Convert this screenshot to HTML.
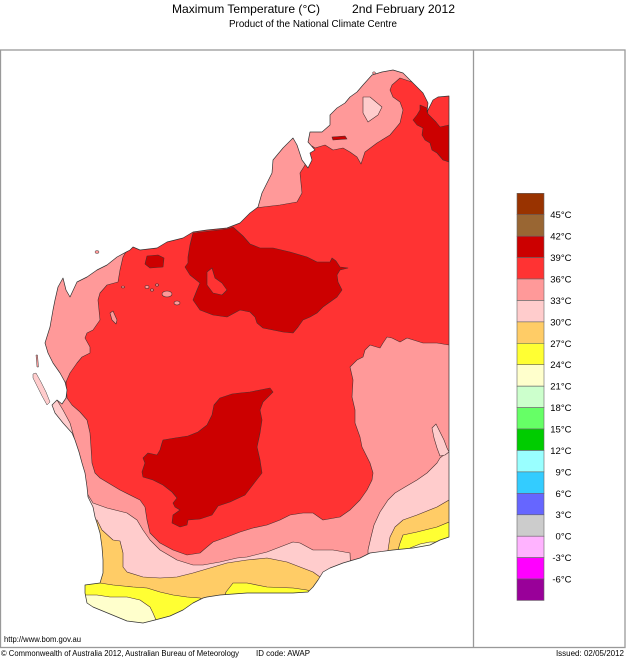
<!DOCTYPE html>
<html>
<head>
<meta charset="utf-8">
<style>
  html,body{margin:0;padding:0;background:#fff;width:626px;height:659px;overflow:hidden;}
  svg{display:block;position:absolute;left:0;top:0;}
  text{font-family:"Liberation Sans", Arial, sans-serif; fill:#000;}
</style>
</head>
<body>
<svg width="626" height="659" viewBox="0 0 626 659" xmlns="http://www.w3.org/2000/svg">
  <rect x="0" y="0" width="626" height="659" fill="#fff"/>

  <text x="172" y="13" font-size="12" textLength="148" lengthAdjust="spacingAndGlyphs">Maximum Temperature (°C)</text>
  <text x="352" y="13" font-size="12" textLength="103" lengthAdjust="spacingAndGlyphs">2nd February 2012</text>
  <text x="229" y="27" font-size="10" textLength="168" lengthAdjust="spacingAndGlyphs">Product of the National Climate Centre</text>

  <defs>
    <clipPath id="land">
      <polygon points="449,96 449,537 440,540 430,545 413,548 393,550 370,553 360,558 343,563 330,568 323,572 318,580 313,587 308,592 293,593 273,593 247,593 220,595 207,597 203,598 193,603 183,610 170,616 155,620 143,623 127,621 110,614 93,607 87,603 85,593 85,585 100,583 103,573 103,560 102,547 100,533 97,523 95,517 93,507 88,497 87,487 85,473 82,463 79,452 75,440 72,433 63,423 55,413 52,405 57,400 62,404 66,398 67,390 65,382 60,373 53,363 48,353 45,343 50,327 53,310 55,300 58,287 63,278 66,290 70,297 77,282 87,277 97,270 107,265 117,257 130,250 133,247 140,250 157,248 167,242 183,238 193,232 207,230 227,228 240,223 250,213 258,207 262,193 272,173 273,160 283,148 293,138 297,145 302,160 308,168 312,160 310,153 315,150 308,142 310,132 322,132 330,125 330,115 337,108 345,103 350,97 357,92 363,85 372,75 382,72 393,70 403,73 412,82 423,93 428,103 427,112 433,100 438,97 449,96"/>
    </clipPath>
  </defs>

  <g clip-path="url(#land)" stroke="#4a3030" stroke-width="0.6" stroke-linejoin="round">
    <rect x="0" y="60" width="450" height="580" fill="#FF3333" stroke="none"/>

    <polygon fill="#FF9999" points="240,200 255,208 263,207 280,205 297,202 302,193 300,173 305,165 306,150 312,146 315,148 325,145 333,150 343,148 350,152 357,157 361,164 365,152 377,143 390,135 400,123 403,110 400,102 393,97 390,90 392,85 400,78 412,82 415,60 240,60"/>
    <polygon fill="#FFCCCC" points="363,97 370,97 382,107 378,115 368,122 363,113"/>
    <polygon fill="#CC0000" points="332,137 345,136 347,139 333,140"/>

    <polygon fill="#FF9999" points="125,235 130,248 127,250 123,257 120,270 118,282 107,285 100,293 98,300 100,320 93,330 87,333 85,338 90,347 90,353 82,357 77,363 70,373 66,382 30,390 20,240"/>

    <polygon fill="#FF9999" points="30,385 66,382 67,398 72,405 80,412 87,420 90,433 91,447 92,463 95,473 100,478 120,490 140,500 145,507 147,520 150,533 160,543 173,550 187,555 200,553 207,547 213,542 227,537 240,532 253,528 267,525 280,520 290,515 303,513 313,513 323,520 340,517 350,510 360,500 367,490 372,480 373,473 370,463 365,453 362,447 360,437 355,423 355,410 352,397 353,380 350,367 357,360 363,357 365,350 370,345 380,348 383,343 387,337 392,338 400,342 407,338 423,343 437,343 449,345 460,345 460,635 10,635 10,385"/>

    <polygon fill="#FFCCCC" points="30,395 57,400 63,410 70,423 74,437 77,450 80,462 83,475 85,490 93,503 107,508 127,513 137,520 143,530 150,540 160,550 177,560 193,565 203,565 220,562 237,558 247,557 267,552 280,547 293,542 300,543 313,550 333,550 350,553 352,600 10,600 10,395"/>
    <polygon fill="#FFCCCC" points="368,600 368,550 371,537 374,525 380,512 388,500 395,493 405,487 417,480 427,473 433,467 437,463 440,458 445,454 449,452 460,452 460,600"/>
    <polygon fill="#FFCCCC" points="432,428 436,424 440,432 444,440 447,448 449,452 445,455 440,456 437,448 434,438"/>

    <polygon fill="#FFCC66" points="60,515 97,520 102,530 113,540 120,541 123,553 123,567 127,572 143,577 160,578 177,577 193,573 210,568 227,563 247,560 267,558 287,562 300,567 313,572 320,577 325,582 325,635 10,635 10,515"/>
    <polygon fill="#FFCC66" points="388,570 388,550 390,537 395,527 403,520 417,515 437,507 449,500 460,500 460,570"/>

    <polygon fill="#FFFF33" points="60,578 87,583 100,583 113,585 133,587 147,588 160,592 173,595 187,597 200,598 207,603 207,635 10,635 10,578"/>
    <polygon fill="#FFFF33" points="222,605 226,592 233,583 247,583 267,587 293,588 307,590 312,592 312,605"/>
    <polygon fill="#FFFF33" points="398,570 398,550 400,543 403,535 417,532 437,527 449,522 460,522 460,570"/>

    <polygon fill="#FFFFCC" points="60,594 85,595 97,595 110,597 127,597 140,600 150,607 153,613 156,620 158,635 10,635 10,594"/>
    <polygon fill="#FFFFCC" points="405,556 410,548 420,544 430,542 440,542 445,556"/>

    <polygon fill="#CC0000" points="193,233 210,231 227,229 233,227 243,236 250,244 260,248 273,248 290,252 307,257 317,262 330,262 332,258 336,261 340,267 348,268 340,270 337,275 338,282 342,290 337,297 330,302 323,307 317,313 310,317 303,320 298,327 293,333 283,332 273,330 263,328 257,323 255,317 250,312 240,310 227,317 213,315 200,310 193,300 197,290 200,283 190,275 185,267 188,263 188,257 190,245"/>
    <polygon fill="#FF3333" points="207,272 212,268 215,278 222,283 227,290 222,295 213,293 207,285"/>
    <polygon fill="#CC0000" points="147,256 158,255 164,258 163,267 150,268 145,264"/>

    <polygon fill="#CC0000" points="420,105 427,108 428,114 432,118 436,122 440,127 449,125 449,162 443,160 437,153 432,150 430,143 425,140 422,135 423,128 417,125 413,120 417,115 420,110"/>

    <polygon fill="#CC0000" points="163,440 175,438 188,436 198,432 207,425 212,415 214,405 220,398 232,394 240,393 250,392 260,390 270,388 273,392 268,397 263,402 260,410 262,420 260,433 257,447 260,460 262,473 255,482 245,495 230,502 218,506 212,515 200,519 188,520 187,525 180,527 172,523 173,515 180,510 175,507 173,503 177,498 172,492 163,485 153,480 143,477 142,472 145,463 143,458 148,453 157,455 160,450 162,443"/>

    <ellipse cx="147" cy="287" rx="2" ry="1.5" fill="#FF9999"/>
    <ellipse cx="152" cy="290" rx="1.5" ry="1.2" fill="#FF9999"/>
    <ellipse cx="157" cy="285" rx="1.5" ry="1.2" fill="#FF9999"/>
    <ellipse cx="167" cy="294" rx="5" ry="3" fill="#FF9999"/>
    <ellipse cx="177" cy="303" rx="3" ry="2" fill="#FF9999"/>
    <polygon fill="#FF9999" points="110,313 113,311 117,320 116,324 112,320"/>
    <ellipse cx="123" cy="287" rx="1.5" ry="1" fill="#FF9999"/>
  </g>

  <polygon fill="none" stroke="#333" stroke-width="0.7" stroke-linejoin="round" points="449,537 440,540 430,545 413,548 393,550 370,553 360,558 343,563 330,568 323,572 318,580 313,587 308,592 293,593 273,593 247,593 220,595 207,597 203,598 193,603 183,610 170,616 155,620 143,623 127,621 110,614 93,607 87,603 85,593 85,585 100,583 103,573 103,560 102,547 100,533 97,523 95,517 93,507 88,497 87,487 85,473 82,463 79,452 75,440 72,433 63,423 55,413 52,405 57,400 62,404 66,398 67,390 65,382 60,373 53,363 48,353 45,343 50,327 53,310 55,300 58,287 63,278 66,290 70,297 77,282 87,277 97,270 107,265 117,257 130,250 133,247 140,250 157,248 167,242 183,238 193,232 207,230 227,228 240,223 250,213 258,207 262,193 272,173 273,160 283,148 293,138 297,145 302,160 308,168 312,160 310,153 315,150 308,142 310,132 322,132 330,125 330,115 337,108 345,103 350,97 357,92 363,85 372,75 382,72 393,70 403,73 412,82 423,93 428,103 427,112 433,100 438,97 449,96"/>

  <polygon fill="#FFCCCC" stroke="#444" stroke-width="0.5" points="33,374 36,373 41,382 46,392 50,402 47,405 42,396 37,386 33,378"/>
  <polygon fill="#FF9999" stroke="#444" stroke-width="0.5" points="36,355 37.5,355 38.5,367 37,367"/>
  <ellipse cx="97" cy="252" rx="2" ry="1.5" fill="#FF9999" stroke="#444" stroke-width="0.5"/>
  <ellipse cx="374" cy="73" rx="1.5" ry="1.2" fill="#FF9999" stroke="#444" stroke-width="0.5"/>

  <rect x="0.5" y="50" width="624.5" height="597.5" fill="none" stroke="#999" stroke-width="1.3"/>
  <line x1="473.5" y1="50" x2="473.5" y2="647.5" stroke="#999" stroke-width="1.3"/>

  <g stroke="#666" stroke-width="0.6">
    <rect x="517" y="193.3" width="27" height="21.43" fill="#993300"/>
    <rect x="517" y="214.7" width="27" height="21.43" fill="#996633"/>
    <rect x="517" y="236.2" width="27" height="21.43" fill="#CC0000"/>
    <rect x="517" y="257.6" width="27" height="21.43" fill="#FF3333"/>
    <rect x="517" y="279.0" width="27" height="21.43" fill="#FF9999"/>
    <rect x="517" y="300.5" width="27" height="21.43" fill="#FFCCCC"/>
    <rect x="517" y="321.9" width="27" height="21.43" fill="#FFCC66"/>
    <rect x="517" y="343.3" width="27" height="21.43" fill="#FFFF33"/>
    <rect x="517" y="364.7" width="27" height="21.43" fill="#FFFFCC"/>
    <rect x="517" y="386.2" width="27" height="21.43" fill="#CCFFCC"/>
    <rect x="517" y="407.6" width="27" height="21.43" fill="#66FF66"/>
    <rect x="517" y="429.0" width="27" height="21.43" fill="#00CC00"/>
    <rect x="517" y="450.5" width="27" height="21.43" fill="#99FFFF"/>
    <rect x="517" y="471.9" width="27" height="21.43" fill="#33CCFF"/>
    <rect x="517" y="493.3" width="27" height="21.43" fill="#6666FF"/>
    <rect x="517" y="514.8" width="27" height="21.43" fill="#CCCCCC"/>
    <rect x="517" y="536.2" width="27" height="21.43" fill="#FFB3FF"/>
    <rect x="517" y="557.6" width="27" height="21.43" fill="#FF00FF"/>
    <rect x="517" y="579.0" width="27" height="21.43" fill="#990099"/>
  </g>
  <g font-size="9.5" text-anchor="end">
    <text x="571.5" y="218.2">45°C</text>
    <text x="571.5" y="239.7">42°C</text>
    <text x="571.5" y="261.1">39°C</text>
    <text x="571.5" y="282.5">36°C</text>
    <text x="571.5" y="304.0">33°C</text>
    <text x="571.5" y="325.4">30°C</text>
    <text x="571.5" y="346.8">27°C</text>
    <text x="571.5" y="368.2">24°C</text>
    <text x="571.5" y="389.7">21°C</text>
    <text x="571.5" y="411.1">18°C</text>
    <text x="571.5" y="432.5">15°C</text>
    <text x="571.5" y="454.0">12°C</text>
    <text x="571.5" y="475.4">9°C</text>
    <text x="571.5" y="496.8">6°C</text>
    <text x="571.5" y="518.2">3°C</text>
    <text x="571.5" y="539.7">0°C</text>
    <text x="571.5" y="561.1">-3°C</text>
    <text x="571.5" y="582.5">-6°C</text>
  </g>

  <text x="4" y="642" font-size="8" textLength="77" lengthAdjust="spacingAndGlyphs">http://www.bom.gov.au</text>
  <text x="1" y="656" font-size="8" textLength="238" lengthAdjust="spacingAndGlyphs">© Commonwealth of Australia 2012, Australian Bureau of Meteorology</text>
  <text x="256" y="656" font-size="8" textLength="54" lengthAdjust="spacingAndGlyphs">ID code: AWAP</text>
  <text x="624" y="656" font-size="8" text-anchor="end">Issued: 02/05/2012</text>
</svg>
</body>
</html>
